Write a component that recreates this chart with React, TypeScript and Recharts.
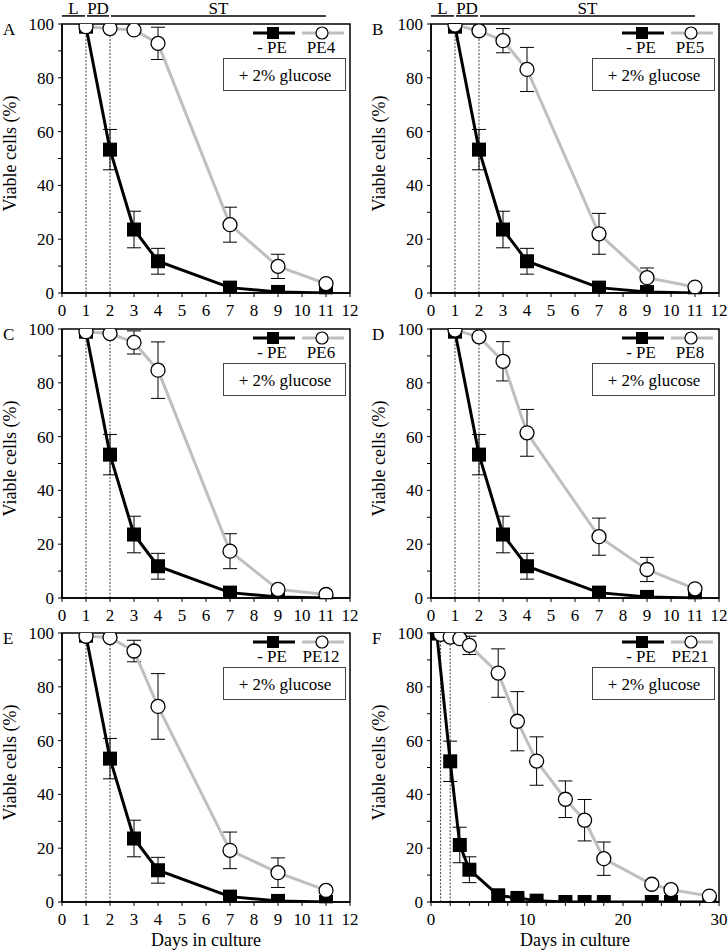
import React from 'react';
import {
  ComposedChart,
  Line,
  XAxis,
  YAxis,
  ErrorBar,
  ReferenceLine,
  ReferenceArea,
  Legend,
  Label,
} from 'recharts';

const FONT = "'Liberation Serif', Tinos, 'Times New Roman', Times, 'DejaVu Serif', 'Noto Serif', serif";
const GREY = '#bfbfbf';

// days sampled in panels A-E
const days = [1, 2, 3, 4, 7, 9, 11];
const dayTicks = [0, 1, 2, 3, 4, 5, 6, 7, 8, 9, 10, 11, 12];
const yTicks = [0, 10, 20, 30, 40, 50, 60, 70, 80, 90, 100];

// untreated control (- PE), same in A-E
const controlViable = [99, 53.3, 23.6, 11.8, 2, 0.4, 0];
const controlErr = [0.5, 7.5, 6.8, 4.8, 1, 0.3, 0.3];

const pe4Viable = [99, 98.3, 97.8, 92.8, 25.4, 9.9, 3.5];
const pe4Err = [0.5, 0.5, 0.5, 6, 6.5, 4.5, 1];
const pe5Viable = [99.6, 97.5, 93.8, 83.1, 22, 5.7, 2.2];
const pe5Err = [0.5, 0.5, 4.5, 8.2, 7.6, 3.6, 1];
const pe6Viable = [99, 98.3, 95, 84.7, 17.4, 3.2, 1.3];
const pe6Err = [0.5, 0.5, 4.3, 10.5, 6.5, 1, 0.5];
const pe8Viable = [99.6, 97.1, 88, 61.4, 22.8, 10.6, 3.4];
const pe8Err = [0.5, 0.5, 7.3, 8.7, 6.9, 4.5, 1];
const pe12Viable = [98.8, 98.3, 93.3, 72.7, 19.2, 10.9, 4.3];
const pe12Err = [0.5, 0.5, 4, 12.2, 6.8, 5.5, 1];

// panel F (longer culture)
const daysF = [1, 2, 3, 4, 7, 9, 11, 14, 16, 18, 23, 25, 29];
const controlDaysF = [0.6, 2, 3, 4, 7, 9, 11, 14, 16, 18, 23, 25, 29];
const controlViableF = [99.8, 52.3, 21.2, 12, 2.5, 1.5, 0.5, 0, 0, 0, 0, 0, 0];
const controlErrF = [0.3, 7.5, 6.6, 4.8, 1, 0.5, 0.3, 0, 0, 0, 0, 0, 0];
const pe21Viable = [99.5, 98.5, 97.9, 95.4, 85.1, 67.2, 52.4, 38.2, 30.4, 16.1, 6.6, 4.6, 2.2];
const pe21Err = [0.3, 0.5, 1, 3.4, 9, 11, 9, 6.8, 7.7, 6.2, 1, 1, 0.5];
const dayTicksF = [0, 2, 4, 6, 8, 10, 12, 14, 16, 18, 20, 22, 24, 26, 28, 30];

// growth phases shown above A and B
const phaseLabels = ['L', 'PD', 'ST'];
const phaseStart = [0, 1.04, 2.04];
const phaseEnd = [0.96, 1.96, 11];
const phaseLevel = 103;
const phaseDays = [1, 2];

const toRows = (x: number[], y: number[], e: number[]) =>
  x.map((d, i) => ({ day: d, value: y[i], err: e[i] }));

const SquareDot = (p: any) =>
  p.cx == null ? null : (
    <rect key={`s${p.index}`} x={p.cx - 7} y={p.cy - 7} width={14} height={14} fill="#000" />
  );

const CircleDot = (p: any) =>
  p.cx == null ? null : (
    <circle key={`c${p.index}`} cx={p.cx} cy={p.cy} r={7} fill="#fff" stroke="#000" strokeWidth={1.3} />
  );

const LegendBox = ({ name }: { name: string }) => (
  <svg width={130} height={70} style={{ display: 'block' }}>
    <line x1={33} y1={9} x2={75} y2={9} stroke="#000" strokeWidth={3} />
    <rect x={47} y={3} width={12} height={12} fill="#000" />
    <line x1={82} y1={9} x2={124} y2={9} stroke={GREY} strokeWidth={3} />
    <circle cx={102} cy={9} r={6} fill="#fff" stroke="#000" strokeWidth={1.2} />
    <text x={52} y={29} textAnchor="middle" fontSize={17} style={{ fontFamily: FONT }}>- PE</text>
    <text x={101} y={29} textAnchor="middle" fontSize={17} style={{ fontFamily: FONT }}>{name}</text>
    <rect x={3.5} y={34.5} width={122} height={32} fill="#fff" stroke="#444" strokeWidth={1} />
    <text x={65} y={57} textAnchor="middle" fontSize={17} style={{ fontFamily: FONT }}>+ 2% glucose</text>
  </svg>
);

interface PanelProps {
  letter: string;
  name: string;
  left: number;
  top: number;
  width: number;
  height: number;
  control: { day: number; value: number; err: number }[];
  treated: { day: number; value: number; err: number }[];
  xMax: number;
  ticks: number[];
  labelEvery: number;
  phases?: boolean;
  xTitle?: boolean;
}

const tickStyle = { fontSize: 17, fill: '#000', style: { fontFamily: FONT } };

const Panel = ({ letter, name, left, top, width, height, control, treated, xMax, ticks, labelEvery, phases, xTitle }: PanelProps) => {
  const xAxisH = xTitle ? 50 : 30;
  const margin = { top: 24, left: 0, right: width - 350, bottom: height - 293 - xAxisH };
  return (
    <div style={{ position: 'absolute', left, top, width, height }}>
      <ComposedChart width={width} height={height} margin={margin}>
        <XAxis
          dataKey="day"
          type="number"
          domain={[0, xMax]}
          ticks={ticks}
          interval={0}
          tickFormatter={(v) => (v % labelEvery === 0 ? String(v) : '')}
          tick={tickStyle}
          tickSize={4}
          tickMargin={7}
          height={xAxisH}
          axisLine={{ stroke: '#000', strokeWidth: 1.5 }}
          tickLine={{ stroke: '#000' }}
          allowDataOverflow
        >
          {xTitle && (
            <Label value="Days in culture" position="insideBottom" offset={6} fontSize={18} fill="#000" style={{ fontFamily: FONT }} />
          )}
        </XAxis>
        <YAxis
          type="number"
          domain={[0, 100]}
          ticks={yTicks}
          interval={0}
          tickFormatter={(v) => (v % 20 === 0 ? String(v) : '')}
          tick={tickStyle}
          tickSize={4}
          tickMargin={4}
          width={62}
          axisLine={{ stroke: '#000', strokeWidth: 1.5 }}
          tickLine={{ stroke: '#000' }}
          allowDataOverflow
        >
          <Label
            content={(p: any) => {
              const vb = p.viewBox;
              const cx = vb.x + 10;
              const cy = vb.y + vb.height / 2 - 5;
              return (
                <text x={cx} y={cy} transform={`rotate(-90 ${cx} ${cy})`} textAnchor="middle" dominantBaseline="central" fontSize={18} style={{ fontFamily: FONT }} fill="#000">
                  Viable cells (%)
                </text>
              );
            }}
          />
          <Label
            content={(p: any) => (
              <text x={p.viewBox.x + 3} y={p.viewBox.y + 11} fontSize={17} style={{ fontFamily: FONT }} fill="#000">
                {letter}
              </text>
            )}
          />
        </YAxis>
        {phaseDays.map((d) => (
          <ReferenceLine key={`g${d}`} x={d} stroke="#444" strokeDasharray="2 1.5" strokeWidth={1} />
        ))}
        {phases &&
          phaseLabels.map((lab, i) => (
            <ReferenceLine
              key={lab}
              segment={[
                { x: phaseStart[i], y: phaseLevel },
                { x: phaseEnd[i], y: phaseLevel },
              ]}
              stroke="#000"
              strokeWidth={1.5}
              ifOverflow="visible"
              label={{ value: lab, position: 'top', offset: 2, fontSize: 17, fill: '#000', style: { fontFamily: FONT } }}
            />
          ))}
        <ReferenceArea x1={0} x2={xMax} y1={0} y2={100} fill="none" stroke="#000" strokeWidth={1.5} ifOverflow="visible" />
        <Line
          data={control}
          dataKey="value"
          type="linear"
          stroke="#000"
          strokeWidth={3}
          dot={SquareDot}
          activeDot={false}
          isAnimationActive={false}
        >
          <ErrorBar dataKey="err" width={7} stroke="#000" strokeWidth={1} direction="y" />
        </Line>
        <Line
          data={treated}
          dataKey="value"
          type="linear"
          stroke={GREY}
          strokeWidth={3}
          dot={CircleDot}
          activeDot={false}
          isAnimationActive={false}
        >
          <ErrorBar dataKey="err" width={7} stroke="#000" strokeWidth={1} direction="y" />
        </Line>
        <Legend
          layout="vertical"
          align="center"
          verticalAlign="middle"
          wrapperStyle={{ position: 'absolute', top: 24, left: 220, width: 130, height: 70 }}
          content={() => <LegendBox name={name} />}
        />
      </ComposedChart>
    </div>
  );
};

export default function App() {
  const ctrl = toRows(days, controlViable, controlErr);
  return (
    <div style={{ position: 'absolute', left: 0, top: 0, width: 728, height: 952, background: '#fff' }}>
      <Panel letter="A" name="PE4" left={0} top={0} width={364} height={330} control={ctrl} treated={toRows(days, pe4Viable, pe4Err)} xMax={12} ticks={dayTicks} labelEvery={1} phases />
      <Panel letter="B" name="PE5" left={369} top={0} width={359} height={330} control={ctrl} treated={toRows(days, pe5Viable, pe5Err)} xMax={12} ticks={dayTicks} labelEvery={1} phases />
      <Panel letter="C" name="PE6" left={0} top={305} width={364} height={330} control={ctrl} treated={toRows(days, pe6Viable, pe6Err)} xMax={12} ticks={dayTicks} labelEvery={1} />
      <Panel letter="D" name="PE8" left={369} top={305} width={359} height={330} control={ctrl} treated={toRows(days, pe8Viable, pe8Err)} xMax={12} ticks={dayTicks} labelEvery={1} />
      <Panel letter="E" name="PE12" left={0} top={609} width={364} height={343} control={ctrl} treated={toRows(days, pe12Viable, pe12Err)} xMax={12} ticks={dayTicks} labelEvery={1} xTitle />
      <Panel letter="F" name="PE21" left={369} top={609} width={359} height={343} control={toRows(controlDaysF, controlViableF, controlErrF)} treated={toRows(daysF, pe21Viable, pe21Err)} xMax={30} ticks={dayTicksF} labelEvery={10} xTitle />
    </div>
  );
}
